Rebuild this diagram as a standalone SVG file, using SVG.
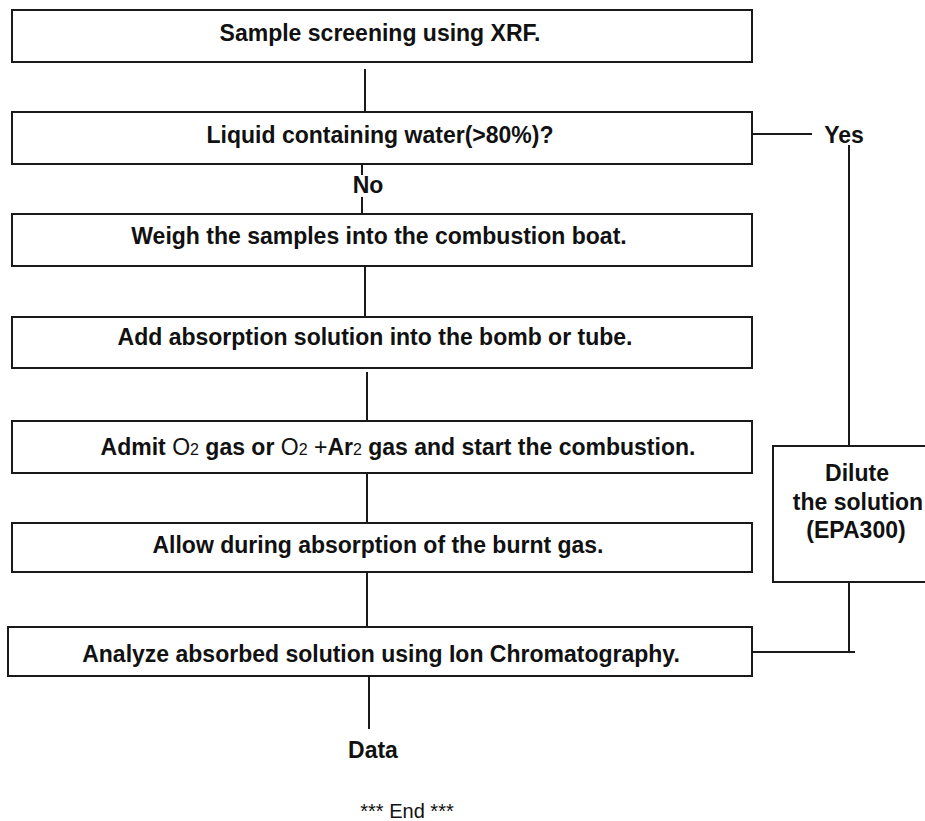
<svg xmlns="http://www.w3.org/2000/svg" width="925" height="821" viewBox="0 0 925 821">
<style>
.box{fill:#fff;stroke:#1a1a1a;stroke-width:2}
.ln{stroke:#1a1a1a;stroke-width:2;fill:none}
.t{font-family:"Liberation Sans",Arial,sans-serif;font-weight:bold;font-size:23px;fill:#111;text-anchor:middle}
.r{font-weight:normal}
.s{font-weight:normal;font-size:16px}
.end{font-family:"Liberation Sans",Arial,sans-serif;font-size:20px;fill:#111;text-anchor:middle}
</style>
<rect width="925" height="821" fill="#fff"/>
<g id="connectors">
<line class="ln" x1="365" y1="69" x2="365" y2="112"/>
<line class="ln" x1="362" y1="164" x2="362" y2="175"/>
<line class="ln" x1="362" y1="197" x2="362" y2="214"/>
<line class="ln" x1="365" y1="264" x2="365" y2="317"/>
<line class="ln" x1="367" y1="372" x2="367" y2="421"/>
<line class="ln" x1="367" y1="473" x2="367" y2="523"/>
<line class="ln" x1="367" y1="572" x2="367" y2="627"/>
<line class="ln" x1="369" y1="676" x2="369" y2="729"/>
<line class="ln" x1="746" y1="134" x2="812" y2="134"/>
<line class="ln" x1="849" y1="145" x2="849" y2="446"/>
<line class="ln" x1="849" y1="582" x2="849" y2="652"/>
<line class="ln" x1="752" y1="652" x2="855" y2="652"/>
</g>
<g id="n1"><rect class="box" x="12" y="10" width="740" height="52"/><text class="t" x="380" y="41">Sample screening using XRF.</text></g>
<g id="n2"><rect class="box" x="12" y="112" width="740" height="52"/><text class="t" x="380" y="143">Liquid containing water(&gt;80%)?</text></g>
<g id="no"><text class="t" x="368" y="193">No</text></g>
<g id="yes"><text class="t" x="844" y="143">Yes</text></g>
<g id="n3"><rect class="box" x="12" y="214" width="740" height="52"/><text class="t" x="379" y="244">Weigh the samples into the combustion boat.</text></g>
<g id="n4"><rect class="box" x="12" y="317" width="740" height="51"/><text class="t" x="375" y="345">Add absorption solution into the bomb or tube.</text></g>
<g id="n5"><rect class="box" x="12" y="421" width="740" height="52"/><text class="t" x="398" y="455">Admit <tspan class="r">O</tspan><tspan class="s">2</tspan> gas or <tspan class="r">O</tspan><tspan class="s">2</tspan><tspan class="r"> +</tspan>Ar<tspan class="s">2</tspan> gas and start the combustion.</text></g>
<g id="n6"><rect class="box" x="12" y="523" width="740" height="49"/><text class="t" x="378" y="553">Allow during absorption of the burnt gas.</text></g>
<g id="n7"><rect class="box" x="8" y="627" width="744" height="49"/><text class="t" x="381" y="662">Analyze absorbed solution using Ion Chromatography.</text></g>
<g id="dilute"><rect class="box" x="773" y="446" width="170" height="136"/><text class="t" x="857" y="481">Dilute</text><text class="t" x="858" y="510">the solution</text><text class="t" x="856" y="538">(EPA300)</text></g>
<g id="data"><text class="t" x="373" y="758">Data</text></g>
<g id="end"><text class="end" x="407" y="818">*** End ***</text></g>
</svg>
